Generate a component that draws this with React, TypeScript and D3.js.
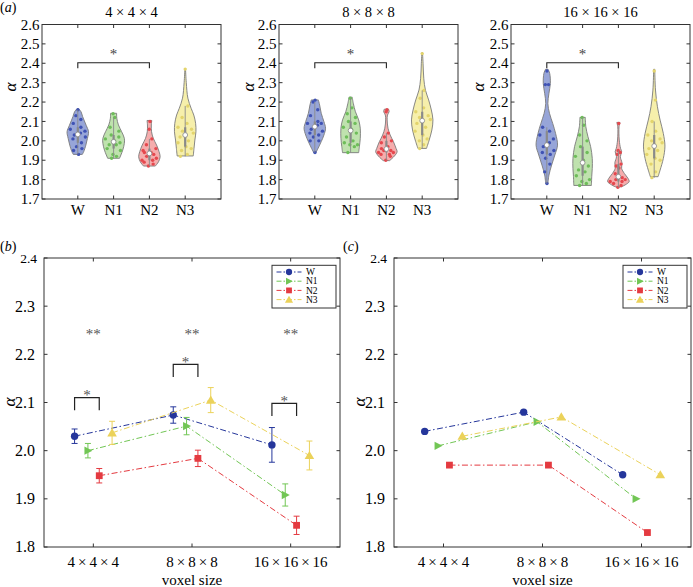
import React from 'react';
import * as d3 from 'd3';

const FONT = '"Liberation Serif", "Times New Roman", serif';

const groups = ['W', 'N1', 'N2', 'N3'];
const voxelSizes = ['4×4×4', '8×8×8', '16×16×16'];
const violinTicks = [1.7, 1.8, 1.9, 2.0, 2.1, 2.2, 2.3, 2.4, 2.5, 2.6];
const lineTicks = [1.8, 1.9, 2.0, 2.1, 2.2, 2.3, 2.4];

const fillColors = ['#97a5d8', '#bfe2ae', '#f5adad', '#f6efab'];
const dotColors = ['#3f52b4', '#6ebd5a', '#e5484e', '#e3d46c'];
const lineColors = ['#25369b', '#72c655', '#e43a40', '#ebd25a'];

// violin outlines: [alpha, half width relative to the widest]
const profiles4 = [
  [[2.165, 0.08], [2.15, 0.3], [2.125, 0.45], [2.08, 0.78], [2.047, 1.0], [2.013, 0.9], [1.978, 0.75], [1.944, 0.55], [1.93, 0.42]],
  [[2.142, 0.28], [2.116, 0.3], [2.082, 0.45], [2.047, 0.75], [2.013, 1.0], [1.987, 1.0], [1.952, 0.85], [1.927, 0.68], [1.91, 0.55]],
  [[2.105, 0.22], [2.082, 0.18], [2.047, 0.2], [2.013, 0.36], [1.978, 0.67], [1.944, 0.9], [1.918, 1.0], [1.892, 0.85], [1.87, 0.55]],
  [[2.37, 0.03], [2.3, 0.1], [2.22, 0.25], [2.168, 0.55], [2.133, 0.8], [2.09, 0.97], [2.047, 1.0], [2.004, 0.9], [1.961, 0.82], [1.922, 0.75]],
];
const profiles8 = [
  [[2.211, 0.33], [2.185, 0.45], [2.142, 0.6], [2.099, 0.85], [2.065, 1.0], [2.03, 0.85], [1.996, 0.6], [1.961, 0.3], [1.939, 0.1]],
  [[2.225, 0.15], [2.194, 0.25], [2.15, 0.45], [2.108, 0.75], [2.065, 0.9], [2.013, 0.9], [1.97, 0.82], [1.939, 0.75]],
  [[2.163, 0.2], [2.15, 0.25], [2.133, 0.1], [2.108, 0.07], [2.065, 0.15], [2.03, 0.35], [1.996, 0.65], [1.961, 0.9], [1.944, 1.0], [1.922, 0.75], [1.898, 0.3]],
  [[2.455, 0.03], [2.4, 0.08], [2.32, 0.15], [2.262, 0.3], [2.211, 0.6], [2.159, 0.85], [2.108, 1.0], [2.056, 0.9], [2.004, 0.65], [1.961, 0.4]],
];
const profiles16 = [
  [[2.369, 0.12], [2.348, 0.27], [2.296, 0.33], [2.245, 0.2], [2.193, 0.1], [2.142, 0.25], [2.09, 0.55], [2.038, 0.82], [1.978, 1.0], [1.927, 0.75], [1.875, 0.45], [1.823, 0.2], [1.78, 0.1]],
  [[2.121, 0.25], [2.073, 0.3], [2.021, 0.5], [1.97, 0.75], [1.909, 0.9], [1.858, 0.9], [1.815, 0.85], [1.77, 0.82]],
  [[2.095, 0.15], [2.073, 0.06], [2.004, 0.08], [1.961, 0.2], [1.944, 0.3], [1.918, 0.18], [1.887, 0.33], [1.858, 0.3], [1.832, 0.55], [1.806, 0.9], [1.789, 1.0], [1.763, 0.3]],
  [[2.369, 0.05], [2.262, 0.12], [2.176, 0.3], [2.107, 0.55], [2.038, 0.85], [1.973, 1.0], [1.909, 0.85], [1.849, 0.55], [1.815, 0.36]],
];

// individual subjects per group
const points4 = [
  [2.16, 2.13, 2.11, 2.09, 2.07, 2.06, 2.05, 2.04, 2.033, 2.03, 2.02, 2.01, 1.99, 1.97, 1.96, 1.95, 1.93],
  [2.14, 2.12, 2.07, 2.05, 2.03, 2.02, 2.01, 2.0, 1.995, 1.99, 1.98, 1.98, 1.96, 1.95, 1.93, 1.92, 1.91],
  [2.1, 2.06, 2.01, 1.98, 1.96, 1.95, 1.94, 1.94, 1.935, 1.93, 1.92, 1.91, 1.9, 1.9, 1.89, 1.88, 1.87],
  [2.37, 2.18, 2.12, 2.09, 2.07, 2.06, 2.05, 2.04, 2.03, 2.02, 2.0, 1.99, 1.97, 1.96, 1.95, 1.93, 1.92],
];
const points8 = [
  [2.21, 2.2, 2.16, 2.13, 2.1, 2.09, 2.09, 2.08, 2.073, 2.06, 2.05, 2.04, 2.03, 2.02, 2.0, 2.0, 1.94],
  [2.22, 2.17, 2.14, 2.12, 2.1, 2.09, 2.07, 2.06, 2.053, 2.04, 2.02, 2.0, 1.99, 1.98, 1.98, 1.97, 1.94],
  [2.16, 2.15, 2.04, 2.02, 2.0, 1.99, 1.97, 1.96, 1.958, 1.95, 1.95, 1.94, 1.94, 1.93, 1.93, 1.92, 1.9],
  [2.45, 2.26, 2.22, 2.17, 2.15, 2.13, 2.12, 2.11, 2.104, 2.09, 2.07, 2.05, 2.03, 2.01, 2.0, 1.98, 1.96],
];
const points16 = [
  [2.36, 2.29, 2.29, 2.07, 2.05, 2.03, 2.01, 1.99, 1.978, 1.97, 1.95, 1.94, 1.93, 1.91, 1.88, 1.84, 1.78],
  [2.12, 2.08, 2.03, 2.0, 1.97, 1.94, 1.92, 1.9, 1.887, 1.87, 1.85, 1.84, 1.82, 1.8, 1.79, 1.78, 1.77],
  [2.09, 1.95, 1.94, 1.93, 1.88, 1.87, 1.86, 1.83, 1.815, 1.81, 1.8, 1.8, 1.79, 1.79, 1.78, 1.77, 1.76],
  [2.36, 2.21, 2.1, 2.05, 2.03, 2.01, 2.0, 1.99, 1.973, 1.96, 1.95, 1.93, 1.91, 1.9, 1.88, 1.84, 1.81],
];

// horizontal scatter of the dots, as a share of the local violin width
const jitters = [
  [0.1, -0.5, 0.6, -0.7, 0.4, -0.9, 0.8, 0.3, 0, -0.4, 0.9, -0.6, 0.5, -0.2, 0.7, -0.8, 0.2],
  [-0.2, 0.4, -0.7, 0.8, -0.3, 0.6, -0.9, 0.1, 0, 0.7, -0.5, 0.3, -0.8, 0.9, -0.1, 0.5, -0.4],
  [0.3, -0.1, 0.7, -0.5, 0.9, -0.8, 0.2, -0.6, 0, 0.5, -0.3, 0.8, -0.9, 0.4, -0.7, 0.6, -0.2],
  [0, 0.6, -0.4, 0.2, -0.8, 0.7, -0.3, 0.9, 0, -0.6, 0.4, -0.9, 0.1, 0.8, -0.5, 0.3, -0.7],
];

// (b) mean ± s.e.
const meanAlpha = [
  [2.03, 2.074, 2.012],
  [2.0, 2.051, 1.908],
  [1.948, 1.984, 1.845],
  [2.037, 2.105, 1.99],
];
const errAlpha = [
  [0.015, 0.017, 0.036],
  [0.015, 0.018, 0.023],
  [0.015, 0.017, 0.019],
  [0.024, 0.026, 0.03],
];
// (c) group-level alpha
const groupAlpha = [
  [2.04, 2.08, 1.95],
  [2.01, 2.06, 1.9],
  [1.97, 1.97, 1.83],
  [2.03, 2.07, 1.95],
];
const doubleStarLevel = [2.248, 2.248, 2.248];
const bracketLevel = [2.11, 2.179, 2.098];

const seriesOffset = [-0.19, -0.055, 0.06, 0.19];

function halfAt(profile: number[][], v: number) {
  for (let i = 0; i < profile.length - 1; i++) {
    const [a, wa] = profile[i];
    const [b, wb] = profile[i + 1];
    if (v <= a && v >= b) return wa + ((a - v) / (a - b)) * (wb - wa);
  }
  return v > profile[0][0] ? profile[0][1] : profile[profile.length - 1][1];
}

function Marker({ type, x, y, color, s = 1 }: any) {
  if (type === 0) return <circle cx={x} cy={y} r={3.7 * s} fill={color} />;
  if (type === 1) return <path d={`M${x - 3.5 * s},${y - 4.2 * s}L${x + 4.5 * s},${y}L${x - 3.5 * s},${y + 4.2 * s}Z`} fill={color} />;
  if (type === 2) return <rect x={x - 3.4 * s} y={y - 3.4 * s} width={6.8 * s} height={6.8 * s} fill={color} />;
  return <path d={`M${x},${y - 4.6 * s}L${x + 4.8 * s},${y + 3.6 * s}L${x - 4.8 * s},${y + 3.6 * s}Z`} fill={color} />;
}

function ViolinPanel({ left, title, profiles, points, alphaX }: any) {
  const top = 24.5;
  const bottom = 199;
  const width = 179;
  const x = d3.scaleLinear().domain([0, 5]).range([left, left + width]);
  const y = d3.scaleLinear().domain([1.7, 2.6]).range([bottom, top]);
  const unit = x(0.3) - x(0);

  return (
    <g>
      <text x={left + width / 2} y={17} textAnchor="middle" fontSize={14.5} fontFamily={FONT}>{title}</text>
      {groups.map((g, i) => {
        const cx = x(i + 1);
        const prof = profiles[i];
        const area = d3.area<number[]>()
          .y((d) => y(d[0]))
          .x0((d) => cx - d[1] * unit)
          .x1((d) => cx + d[1] * unit)
          .curve(d3.curveCatmullRom.alpha(0.5));
        const vals = [...points[i]].sort(d3.ascending);
        const q1 = d3.quantile(vals, 0.25)!;
        const q3 = d3.quantile(vals, 0.75)!;
        const med = d3.median(vals)!;
        const iqr = q3 - q1;
        const lo = d3.min(vals.filter((v) => v >= q1 - 1.5 * iqr))!;
        const hi = d3.max(vals.filter((v) => v <= q3 + 1.5 * iqr))!;
        return (
          <g key={g}>
            <path d={area(prof) || ''} fill={fillColors[i]} stroke="#7a7a7a" strokeWidth={0.9} />
            {points[i].map((v: number, k: number) => (
              <circle key={k} cx={cx + jitters[i][k] * halfAt(prof, v) * unit * 0.85} cy={y(v)} r={1.7} fill={dotColors[i]} />
            ))}
            <line x1={cx} x2={cx} y1={y(hi)} y2={y(lo)} stroke="#8a8a8a" strokeWidth={0.9} />
            <rect x={cx - 1.1} width={2.2} y={y(q3)} height={y(q1) - y(q3)} fill="#8a8a8a" />
            <circle cx={cx} cy={y(med)} r={2.4} fill="#fff" stroke="#888" strokeWidth={0.8} />
          </g>
        );
      })}
      <path d={`M${x(1)},${y(2.374)}V${y(2.403)}H${x(3)}V${y(2.374)}`} fill="none" stroke="#222" strokeWidth={1.1} />
      <text x={x(2)} y={y(2.465) + 8} textAnchor="middle" fontSize={15} fontFamily={FONT} fill="#444">*</text>
      <rect x={left} y={top} width={width} height={bottom - top} fill="none" stroke="#333" strokeWidth={1} />
      {violinTicks.map((t) => (
        <g key={t}>
          <line x1={left} x2={left + 3.5} y1={y(t)} y2={y(t)} stroke="#333" />
          <line x1={left + width - 3.5} x2={left + width} y1={y(t)} y2={y(t)} stroke="#333" />
          <text x={left - 2.5} y={y(t)} dy="0.34em" textAnchor="end" fontSize={15} fontFamily={FONT}>{t.toFixed(1)}</text>
        </g>
      ))}
      {groups.map((g, i) => (
        <g key={g}>
          <line x1={x(i + 1)} x2={x(i + 1)} y1={bottom} y2={bottom - 3.5} stroke="#333" />
          <line x1={x(i + 1)} x2={x(i + 1)} y1={top} y2={top + 3.5} stroke="#333" />
          <text x={x(i + 1)} y={215} textAnchor="middle" fontSize={15} fontFamily={FONT}>{g}</text>
        </g>
      ))}
      <text transform={`translate(${alphaX},87) rotate(-90)`} textAnchor="middle" dy="0.3em" fontSize={17} fontStyle="italic" fontFamily={FONT}>α</text>
    </g>
  );
}

function LinePanel({ left, right, values, errors, alphaX, withStars }: any) {
  const top = 258;
  const bottom = 547;
  const x = d3.scaleLinear().domain([0.5, 3.5]).range([left, right]);
  const y = d3.scaleLinear().domain([1.8, 2.4]).range([bottom, top]);

  const legX = right - 68;
  return (
    <g>
      {values.map((series: number[], i: number) => {
        const pts = series.map((v, k) => [x(k + 1 + seriesOffset[i]), y(v)]);
        return (
          <g key={i}>
            <path d={d3.line()(pts as [number, number][]) || ''} fill="none" stroke={lineColors[i]} strokeWidth={1} strokeDasharray="6,2.5,1.5,2.5" />
            {errors && series.map((v, k) => {
              const cx = x(k + 1 + seriesOffset[i]);
              const e = errors[i][k];
              return (
                <g key={k} stroke={lineColors[i]} strokeWidth={1}>
                  <line x1={cx} x2={cx} y1={y(v + e)} y2={y(v - e)} />
                  <line x1={cx - 3} x2={cx + 3} y1={y(v + e)} y2={y(v + e)} />
                  <line x1={cx - 3} x2={cx + 3} y1={y(v - e)} y2={y(v - e)} />
                </g>
              );
            })}
            {pts.map((p, k) => <Marker key={k} type={i} x={p[0]} y={p[1]} color={lineColors[i]} />)}
          </g>
        );
      })}
      {withStars && voxelSizes.map((v, k) => {
        const xa = x(k + 1 + seriesOffset[0]);
        const xb = x(k + 1 + seriesOffset[2]);
        return (
          <g key={v} fontFamily={FONT} fill="#555">
            <text x={x(k + 1)} y={y(doubleStarLevel[k]) + 8} textAnchor="middle" fontSize={15}>**</text>
            <path d={`M${xa},${y(bracketLevel[k] - 0.026)}V${y(bracketLevel[k])}H${xb}V${y(bracketLevel[k] - 0.026)}`} fill="none" stroke="#222" strokeWidth={1.2} />
            <text x={(xa + xb) / 2} y={y(bracketLevel[k] + 0.012) + 8} textAnchor="middle" fontSize={15}>*</text>
          </g>
        );
      })}
      <rect x={left} y={top} width={right - left} height={bottom - top} fill="none" stroke="#333" strokeWidth={1} />
      {lineTicks.map((t) => (
        <g key={t}>
          <line x1={left} x2={left + 3.5} y1={y(t)} y2={y(t)} stroke="#333" />
          <line x1={right - 3.5} x2={right} y1={y(t)} y2={y(t)} stroke="#333" />
          <text x={left - (t === 2.4 ? 7 : 9)} y={y(t)} dy="0.34em" textAnchor="end" fontSize={t === 2.4 ? 13.5 : 16} fontFamily={FONT}>{t.toFixed(1)}</text>
        </g>
      ))}
      {voxelSizes.map((v, k) => (
        <g key={v}>
          <line x1={x(k + 1)} x2={x(k + 1)} y1={bottom} y2={bottom - 3.5} stroke="#333" />
          <line x1={x(k + 1)} x2={x(k + 1)} y1={top} y2={top + 3.5} stroke="#333" />
          <text x={x(k + 1)} y={567} textAnchor="middle" fontSize={15} fontFamily={FONT}>{v.replace(/×/g, ' × ').replace(/ /g, '\u2009')}</text>
        </g>
      ))}
      <text x={(left + right) / 2} y={585} textAnchor="middle" fontSize={15} fontFamily={FONT}>voxel size</text>
      <text transform={`translate(${alphaX},402) rotate(-90)`} textAnchor="middle" dy="0.3em" fontSize={17} fontStyle="italic" fontFamily={FONT}>α</text>
      <g>
        <rect x={legX} y={265.3} width={64} height={42.7} fill="#fff" stroke="#333" strokeWidth={1} />
        {groups.map((g, i) => {
          const ly = 272 + i * 9.2;
          return (
            <g key={g}>
              <line x1={legX + 4.5} x2={legX + 29.5} y1={ly} y2={ly} stroke={lineColors[i]} strokeWidth={1} strokeDasharray="5,2,1.5,2" />
              <Marker type={i} x={legX + 17} y={ly} color={lineColors[i]} s={0.85} />
              <text x={legX + 34} y={ly} dy="0.33em" fontSize={9.5} fontFamily={FONT}>{g}</text>
            </g>
          );
        })}
      </g>
    </g>
  );
}

export default function App() {
  return (
    <svg width={693} height={587} style={{ display: 'block', position: 'absolute', left: 0, top: 0, background: '#fff' }}>
      <text x={0} y={12} fontSize={14} fontFamily={FONT}>(<tspan fontStyle="italic">a</tspan>)</text>
      <text x={0} y={251} fontSize={14} fontFamily={FONT}>(<tspan fontStyle="italic">b</tspan>)</text>
      <text x={343} y={251} fontSize={14} fontFamily={FONT}>(<tspan fontStyle="italic">c</tspan>)</text>
      <ViolinPanel left={42} title="4 × 4 × 4" profiles={profiles4} points={points4} alphaX={11} />
      <ViolinPanel left={279} title="8 × 8 × 8" profiles={profiles8} points={points8} alphaX={249} />
      <ViolinPanel left={511} title="16 × 16 × 16" profiles={profiles16} points={points16} alphaX={479} />
      <LinePanel left={44} right={340} values={meanAlpha} errors={errAlpha} alphaX={10} withStars />
      <LinePanel left={394} right={691} values={groupAlpha} errors={null} alphaX={360} withStars={false} />
    </svg>
  );
}
